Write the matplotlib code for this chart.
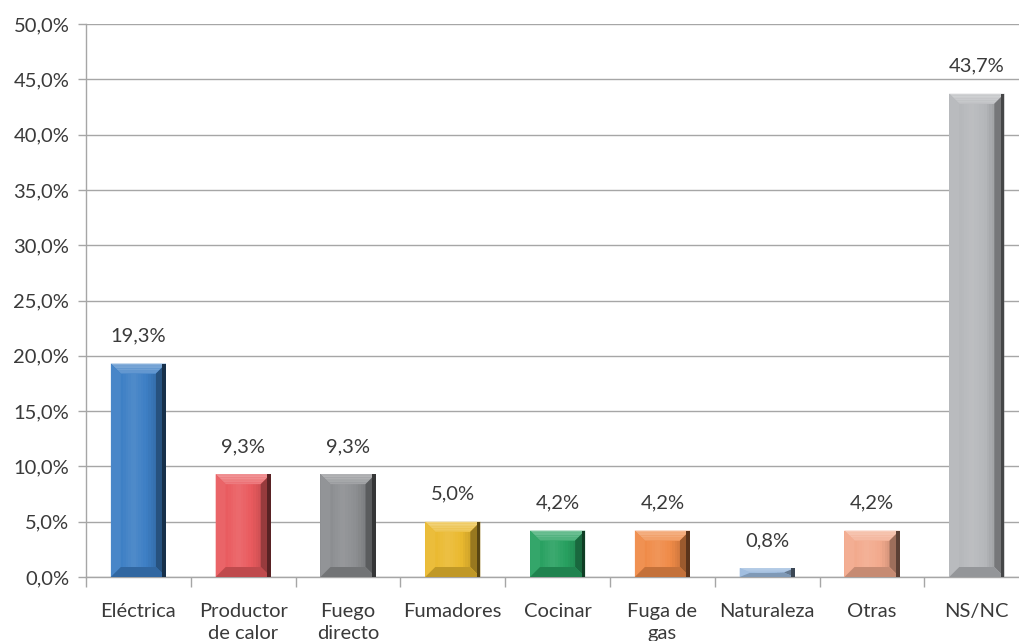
import matplotlib
matplotlib.use("Agg")
import matplotlib.pyplot as plt
from matplotlib.patches import Polygon, Rectangle
from matplotlib.ticker import FixedLocator
import numpy as np

categories = ["Eléctrica", "Productor\nde calor", "Fuego\ndirecto", "Fumadores",
              "Cocinar", "Fuga de\ngas", "Naturaleza", "Otras", "NS/NC"]
values = [19.3, 9.3, 9.3, 5.0, 4.2, 4.2, 0.8, 4.2, 43.7]
value_labels = ["19,3%", "9,3%", "9,3%", "5,0%", "4,2%", "4,2%", "0,8%", "4,2%", "43,7%"]
colors = ["#3c7ec4", "#e95a5e", "#8b8d90", "#eab92f", "#27a060",
          "#ef8a47", "#9bbade", "#f2a98c", "#b5b7ba"]
yticks = [0, 5, 10, 15, 20, 25, 30, 35, 40, 45, 50]
ytick_labels = ["0,0%", "5,0%", "10,0%", "15,0%", "20,0%", "25,0%",
                "30,0%", "35,0%", "40,0%", "45,0%", "50,0%"]

plt.rcParams['font.family'] = ['Lato', 'DejaVu Sans']
FS = 14.5
TXT = '#3a3a3a'

W, H = 1019, 641
fig = plt.figure(figsize=(W / 100, H / 100), dpi=100)
left_px, right_px, top_px, bot_px = 86, 86 + 9 * 104.8, 24, 577
ax = fig.add_axes([left_px / W, (H - bot_px) / H, (right_px - left_px) / W, (bot_px - top_px) / H])

ax.set_xlim(-0.5, 8.5)
ax.set_ylim(0, 50)

px_x = (right_px - left_px) / 9.0  # pixels per x unit
px_y = (bot_px - top_px) / 50.0    # pixels per y unit


def mix(c, other, t):
    c = np.array(matplotlib.colors.to_rgb(c))
    o = np.array(matplotlib.colors.to_rgb(other))
    return tuple(c * (1 - t) + o * t)


bw = 0.525
for i, (v, c) in enumerate(zip(values, colors)):
    x0, x1 = i - bw / 2, i + bw / 2
    y0, y1 = 0, v
    bxp = 10.0
    byp = min(10.0, v * px_y / 2.2)
    bx = bxp / px_x
    by = byp / px_y
    ax.add_patch(Rectangle((x0, y0), bw, v, facecolor=c, edgecolor='none', zorder=3))
    n = 14
    inner_w = bw - 2 * bx
    for k in range(n):
        t = k / (n - 1)
        if t < 0.75:
            shade = mix(c, 'white', 0.10 * (1 - abs(t - 0.35) / 0.4) if abs(t - 0.35) < 0.4 else 0.0)
        else:
            shade = mix(c, 'black', 0.10 * (t - 0.75) / 0.25)
        ax.add_patch(Rectangle((x0 + bx + k * inner_w / n, y0 + by),
                               inner_w / n + 0.002, max(v - 2 * by, 0),
                               facecolor=shade, edgecolor='none', zorder=3.1))
    # top bevel with gradient (light)
    m = 6
    for k in range(m):
        f0, f1 = k / m, (k + 1) / m
        ax.add_patch(Polygon([(x0 + bx * f0, y1 - by * f0), (x1 - bx * f0, y1 - by * f0),
                              (x1 - bx * f1, y1 - by * f1), (x0 + bx * f1, y1 - by * f1)],
                             closed=True, facecolor=mix(c, 'white', 0.38 - 0.22 * f0),
                             edgecolor='none', zorder=3.2))
    ax.add_patch(Polygon([(x0, y0), (x0, y1), (x0 + bx, y1 - by), (x0 + bx, y0 + by)],
                         closed=True, facecolor=mix(c, 'white', 0.06), edgecolor='none', zorder=3.2))
    ax.add_patch(Polygon([(x1, y0), (x1, y1), (x1 - bx, y1 - by), (x1 - bx, y0 + by)],
                         closed=True, facecolor=mix(c, 'black', 0.35), edgecolor='none', zorder=3.2))
    ax.add_patch(Polygon([(x0, y0), (x1, y0), (x1 - bx, y0 + by), (x0 + bx, y0 + by)],
                         closed=True, facecolor=mix(c, 'black', 0.18), edgecolor='none', zorder=3.2))
    ax.add_patch(Rectangle((x1 - 3.5 / px_x, y0), 3.5 / px_x, v,
                           facecolor=mix(c, 'black', 0.62), edgecolor='none', zorder=3.3))
    ax.text(i, v + 19 / px_y, value_labels[i], ha='center', va='bottom',
            fontsize=FS, color=TXT, zorder=4)

ax.set_yticks(yticks)
ax.set_yticklabels(ytick_labels, fontsize=FS, color=TXT)
ax.yaxis.grid(True, color='#a6a6a6', linewidth=1.0, zorder=0)
ax.set_axisbelow(True)

ax.set_xticks(range(len(categories)))
ax.set_xticklabels(categories, fontsize=FS, color=TXT, linespacing=1.3, va='top')
ax.xaxis.set_minor_locator(FixedLocator(np.arange(-0.5, 9.0, 1.0)))
ax.tick_params(axis='x', which='major', length=0, pad=19)
ax.tick_params(axis='x', which='minor', length=7, color='#a6a6a6', width=1.0)
ax.tick_params(axis='y', which='major', length=6, color='#a6a6a6', width=1.0, pad=6)

for s in ['top', 'right']:
    ax.spines[s].set_visible(False)
for s in ['left', 'bottom']:
    ax.spines[s].set_color('#a6a6a6')
    ax.spines[s].set_linewidth(1.0)

fig.savefig("out.png", dpi=100)
